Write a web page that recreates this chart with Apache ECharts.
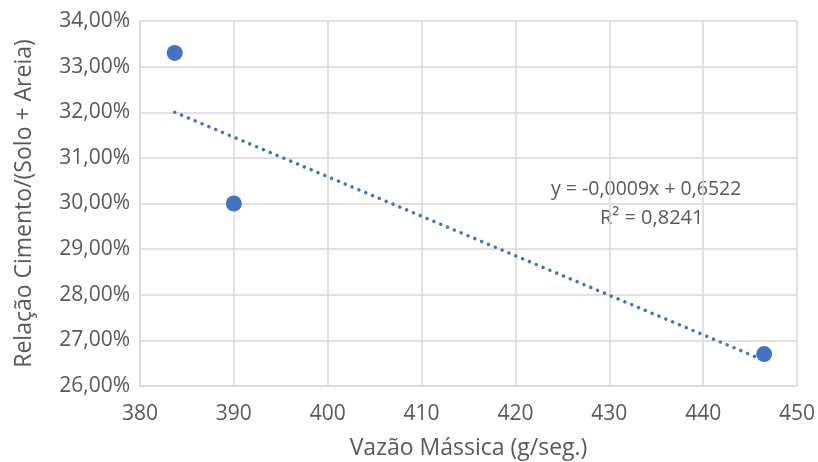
<!DOCTYPE html>
<html><head><meta charset="utf-8">
<script src="https://cdn.jsdelivr.net/npm/echarts@6/dist/echarts.min.js"></script>
<style>html,body{margin:0;padding:0;background:#fff}#c{width:818px;height:462px}</style>
</head><body><div id="c"></div>
<script>
const xValues = [383.7, 390.0, 446.5];
const yValues = [0.333, 0.300, 0.267];
const trendX = [383.7, 446.5];
const trendY = [0.3200, 0.2656];
const equationText = 'y = -0,0009x + 0,6522';
const r2Text = 'R² = 0,8241';
const xTitle = 'Vazão Mássica (g/seg.)';
const yTitle = 'Relação Cimento/(Solo + Areia)';

const FONT = '"Open Sans", "Liberation Sans", sans-serif';
const TXT = '#595959';
const chart = echarts.init(document.getElementById('c'), null, {renderer: 'canvas'});
chart.setOption({
  animation: false,
  backgroundColor: '#fff',
  grid: {left: 140, right: 21, top: 21, bottom: 76, containLabel: false, outerBoundsMode: 'none'},
  xAxis: {
    type: 'value', min: 380, max: 450, interval: 10,
    name: xTitle, nameLocation: 'middle', nameGap: 51,
    nameTextStyle: {color: TXT, fontSize: 23, fontFamily: FONT},
    axisLine: {show: true, lineStyle: {color: '#d9d9d9', width: 1.5}},
    axisTick: {show: false},
    axisLabel: {color: TXT, fontSize: 21, fontFamily: FONT, margin: 18},
    splitLine: {show: true, lineStyle: {color: '#d9d9d9', width: 1.5}}
  },
  yAxis: {
    type: 'value', min: 0.26, max: 0.34, interval: 0.01,
    name: yTitle, nameLocation: 'middle', nameGap: 104, nameRotate: 90,
    nameTextStyle: {color: TXT, fontSize: 23, fontFamily: FONT},
    axisLine: {show: true, lineStyle: {color: '#d9d9d9', width: 1.5}},
    axisTick: {show: false},
    axisLabel: {color: TXT, fontSize: 21, fontFamily: FONT, margin: 10,
      formatter: v => (v * 100).toFixed(2).replace('.', ',') + '%'},
    splitLine: {show: true, lineStyle: {color: '#d9d9d9', width: 1.5}}
  },
  series: [
    {
      type: 'line', data: trendX.map((x, i) => [x, trendY[i]]),
      showSymbol: false, symbol: 'none',
      lineStyle: {color: '#4472C4', width: 3.5, type: [0.1, 7.3], cap: 'round'},
      z: 2
    },
    {
      type: 'scatter', data: xValues.map((x, i) => [x, yValues[i]]),
      symbolSize: 16, itemStyle: {color: '#4472C4', opacity: 1}, z: 3
    }
  ],
  graphic: [
    {type: 'text', left: 551, top: 179, style: {text: equationText, fill: TXT, font: '19.5px ' + FONT}},
    {type: 'text', left: 600, top: 208, style: {text: r2Text, fill: TXT, font: '20px ' + FONT}}
  ]
});
</script></body></html>
